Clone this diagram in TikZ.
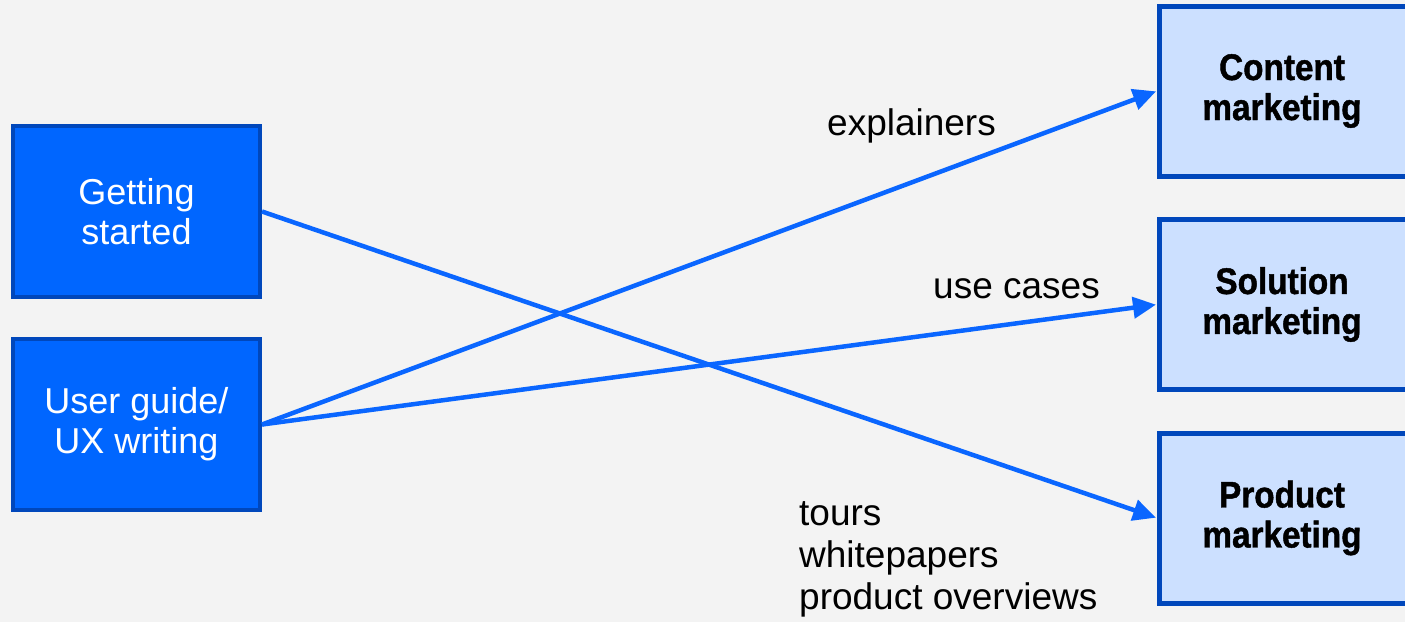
\documentclass[tikz,border=0pt]{standalone}
\usepackage{fontspec}
\setmainfont{Liberation Sans}
\newfontfamily\condbold[FakeStretch=0.9,FakeBold=1.2]{Liberation Sans Bold}
\usetikzlibrary{arrows.meta}
\definecolor{bg}{HTML}{F3F3F3}
\definecolor{darkfill}{HTML}{0066FF}
\definecolor{edge}{HTML}{0047BB}
\definecolor{lightfill}{HTML}{CCE0FF}
\definecolor{link}{HTML}{0A66FF}
\newcommand{\rline}[1]{#1\hspace*{10pt}}
\tikzset{
  srcbox/.style={draw=edge, fill=darkfill, line width=4pt, minimum width=247pt, minimum height=171pt,
    inner sep=0pt, outer sep=2pt, text=white, align=center,
    font=\fontsize{36}{40}\selectfont},
  dstbox/.style={draw=edge, fill=lightfill, line width=5pt, minimum width=255pt, minimum height=170pt,
    inner sep=0pt, outer sep=2.5pt, text=black, align=center,
    font=\condbold\fontsize{37}{40}\selectfont},
  flow/.style={draw=link, line width=4.5pt, -{Triangle[length=23pt,width=21pt]}, shorten >=1pt},
  lbl/.style={inner sep=0pt, anchor=base west, font=\fontsize{37}{42}\selectfont}
}
\begin{document}
\begin{tikzpicture}[x=1pt,y=-1pt]
\fill[bg] (0,0) rectangle (1405,622);
\useasboundingbox (0,0) rectangle (1405,622);
\node[srcbox] (gs) at (136.5,211.5) {Getting\\started};
\node[srcbox] (ug) at (136.5,424.5) {User guide/\\UX writing};
\node[dstbox] (cm) at (1287,91) {\rline{Content}\\\rline{marketing}};
\node[dstbox] (sm) at (1287,304.5) {\rline{Solution}\\\rline{marketing}};
\node[dstbox] (pm) at (1287,518) {\rline{Product}\\\rline{marketing}};
\draw[flow] (gs.east) -- (pm.west);
\draw[flow] (ug.east) -- (cm.west);
\draw[flow] (ug.east) -- (sm.west);
\node[lbl] (l1) at (827,135) {explainers};
\node[lbl] (l2) at (933,298) {use cases};
\node[lbl] (l3) at (799,525) {tours};
\node[lbl] (l4) at (799,567) {whitepapers};
\node[lbl] (l5) at (799,609) {product overviews};
\end{tikzpicture}
\end{document}
